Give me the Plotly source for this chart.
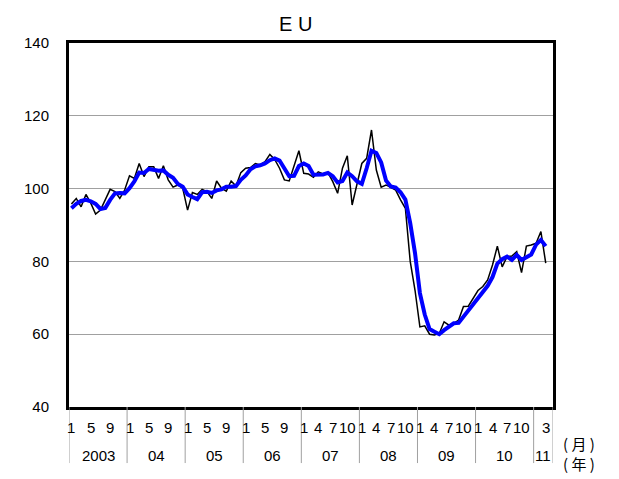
import plotly.graph_objects as go

# Monthly index values, Jan 2003 .. Mar 2011 (black thin line)
monthly = [
    95.8, 97.3, 95.0, 98.4, 96.0, 93.0, 94.1, 97.0, 99.8, 99.2, 97.3, 99.6,      # 2003
    103.5, 102.8, 106.9, 103.3, 106.0, 106.0, 102.8, 106.3, 102.4, 100.4, 101.0, 100.1,  # 2004
    94.1, 98.9, 98.4, 99.8, 99.2, 97.3, 102.1, 100.1, 99.3, 102.1, 100.7, 104.4,  # 2005
    105.6, 105.8, 106.9, 106.5, 107.4, 109.4, 108.0, 105.6, 102.4, 102.1, 106.0, 110.4,  # 2006
    104.2, 104.0, 103.1, 104.6, 104.0, 104.4, 101.9, 98.7, 105.6, 109.0, 95.5, 101.5,  # 2007
    106.9, 108.3, 116.1, 105.1, 100.4, 101.0, 100.4, 99.6, 96.9, 94.6, 80.0, 72.0,  # 2008
    62.0, 62.3, 60.0, 59.8, 60.2, 63.4, 62.5, 63.0, 63.9, 67.6, 67.7, 69.9,      # 2009
    72.0, 73.1, 74.9, 79.0, 84.2, 78.5, 81.3, 81.5, 82.7, 76.9, 84.2, 84.5,      # 2010
    85.0, 88.2, 79.5,                                                            # 2011
]

# Smoothed values (blue thick line)
smoothed = [
    94.6, 95.8, 96.6, 96.9, 96.5, 95.8, 94.4, 94.7, 96.9, 98.7, 98.8, 98.7,
    100.1, 102.0, 104.4, 104.3, 105.4, 105.1, 104.9, 105.0, 103.8, 103.0, 101.3, 100.5,
    98.4, 97.7, 97.1, 99.0, 99.1, 98.8, 99.5, 99.8, 100.5, 100.5, 100.7, 102.4,
    103.6, 105.3, 106.1, 106.4, 106.9, 107.8, 108.3, 107.7, 105.3, 103.4, 103.5, 106.2,
    106.9, 106.2, 103.8, 103.9, 103.9, 104.3, 103.4, 101.7, 102.1, 104.4, 103.4, 102.0,
    101.3, 105.6, 110.4, 109.8, 107.2, 102.2, 100.6, 100.3, 99.0, 97.0, 90.5, 82.2,
    71.3, 65.4, 61.4, 60.7, 60.0, 61.1, 62.0, 63.0, 63.1, 64.8, 66.4, 68.4,
    69.9, 71.7, 73.3, 75.7, 79.4, 80.6, 81.3, 80.4, 81.8, 80.4, 81.3, 81.9,
    84.6, 85.9, 84.2,
]

years = ["2003", "04", "05", "06", "07", "08", "09", "10", "11"]
month_labels_early = [1, 5, 9]       # 2003-2006
month_labels_late = [1, 4, 7, 10]    # 2007-2010
month_labels_last = [3]              # 2011
y_ticks = [40, 60, 80, 100, 120, 140]
n_categories = 100  # axis runs Jan 2003 .. Apr 2011

x = list(range(len(monthly)))
font = "Liberation Sans, Arial, sans-serif"
fs = 15

fig = go.Figure()
fig.add_trace(go.Scatter(x=x, y=monthly, mode="lines",
                         line=dict(color="black", width=1.5), hoverinfo="skip"))
fig.add_trace(go.Scatter(x=x[:len(smoothed)], y=smoothed, mode="lines",
                         line=dict(color="#0000FF", width=4), hoverinfo="skip"))

annotations = []
shapes = []
# Year separators & labels
for k, yr in enumerate(years):
    start = 12 * k
    end = min(12 * (k + 1), n_categories)
    shapes.append(dict(type="line", xref="x", yref="paper", x0=start - 0.5, x1=start - 0.5,
                       y0=0, y1=-0.154, line=dict(color="#A0A0A0", width=1)))
    annotations.append(dict(text=yr, xref="x", yref="paper", x=(start + end - 1) / 2,
                            y=-0.134, xanchor="center", yanchor="middle", showarrow=False,
                            font=dict(size=fs, color="black", family=font)))
    if k < 4:
        months = month_labels_early
    elif k < 8:
        months = month_labels_late
    else:
        months = month_labels_last
    for m in months:
        annotations.append(dict(text=str(m), xref="x", yref="paper", x=start + m - 1,
                                y=-0.055, xanchor="center", yanchor="middle", showarrow=False,
                                font=dict(size=fs, color="black", family=font)))
shapes.append(dict(type="line", xref="x", yref="paper", x0=n_categories - 0.5, x1=n_categories - 0.5,
                   y0=0, y1=-0.154, line=dict(color="#A0A0A0", width=1)))

cjk = "Noto Sans CJK JP, sans-serif"
annotations.append(dict(text="( 月 )", xref="paper", yref="paper", x=1.054, y=-0.099,
                        xanchor="center", yanchor="middle", showarrow=False,
                        font=dict(size=15, color="black", family=cjk)))
annotations.append(dict(text="( 年 )", xref="paper", yref="paper", x=1.054, y=-0.154,
                        xanchor="center", yanchor="middle", showarrow=False,
                        font=dict(size=15, color="black", family=cjk)))
annotations.append(dict(text="E U", xref="paper", yref="paper", x=0.467, y=1.052,
                        xanchor="center", yanchor="middle", showarrow=False,
                        font=dict(size=20, color="black", family=font)))

fig.update_layout(
    width=619, height=479,
    margin=dict(l=61, r=74, t=35, b=80, autoexpand=False),
    paper_bgcolor="white", plot_bgcolor="white",
    showlegend=False,
    annotations=annotations, shapes=shapes,
    font=dict(family=font, size=fs, color="black"),
)
fig.update_xaxes(range=[-0.5, n_categories - 0.5], showticklabels=False, ticks="",
                 showgrid=False, zeroline=False, showline=True, linecolor="black",
                 linewidth=3, mirror=True, fixedrange=True, automargin=False)
fig.update_yaxes(range=[40, 140], tickvals=y_ticks, ticks="", showgrid=True,
                 gridcolor="#A0A0A0", gridwidth=1, zeroline=False, showline=True,
                 linecolor="black", linewidth=3, mirror=True, ticklabelstandoff=14,
                 tickfont=dict(size=fs, family=font), fixedrange=True, automargin=False)

fig.write_html("out.html")
